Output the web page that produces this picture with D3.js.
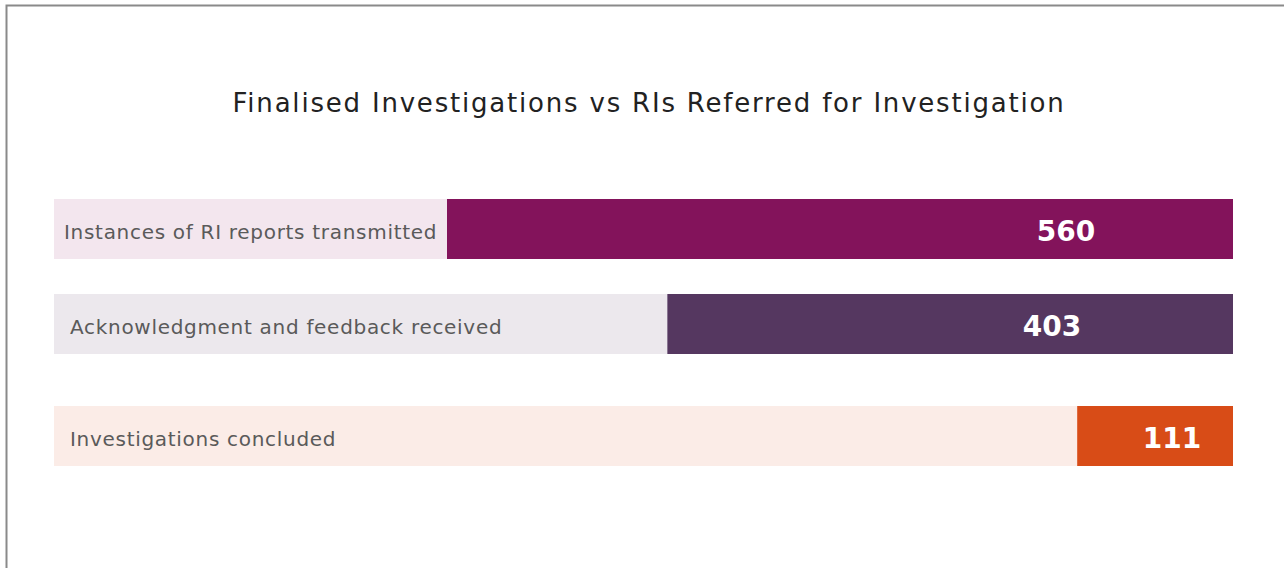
<!DOCTYPE html>
<html>
<head>
<meta charset="utf-8">
<script src="https://cdn.jsdelivr.net/npm/d3@7"></script>
<style>
  html, body { margin: 0; padding: 0; background: #fff; }
  svg { display: block; }
</style>
</head>
<body>
<svg id="chart" width="1284" height="568"></svg>
<script>
// Data
const categories = [
  "Instances of RI reports transmitted",
  "Acknowledgment and feedback received",
  "Investigations concluded"
];
const values = [560, 403, 111];
const barColors = ["#83135b", "#553760", "#d84c17"];
const trackColors = ["#f3e6ee", "#ece8ed", "#fbece7"];
const title = "Finalised Investigations vs RIs Referred for Investigation";

// Layout
const W = 1284, H = 568;
const trackLeft = 54, trackRight = 1233;
const barH = 60;
const rowTops = [199, 294, 406];
const labelInset = [10, 16, 16];
const valueCenterOffset = [167, 181, 61];
const fontFamily = "'DejaVu Sans', 'Noto Sans', sans-serif";

const svg = d3.select("#chart");

// frame
svg.append("path")
  .attr("d", `M6.5,${H} V5.5 H${W}`)
  .attr("fill", "none")
  .attr("stroke", "#8a8a8a")
  .attr("stroke-width", 2);

svg.append("text")
  .attr("x", 649)
  .attr("y", 112)
  .attr("text-anchor", "middle")
  .attr("font-family", fontFamily)
  .attr("font-size", 26)
  .attr("letter-spacing", 1.8)
  .attr("fill", "#222")
  .text(title);

const len = d3.scaleLinear().domain([0, 840]).range([0, trackRight - trackLeft]);
const y = d3.scaleOrdinal().domain(categories).range(rowTops);

const rows = svg.selectAll("g.row")
  .data(categories.map((c, i) => ({ c, v: values[i], i })))
  .join("g")
  .attr("class", "row")
  .attr("transform", d => `translate(0,${y(d.c)})`);

rows.append("rect")
  .attr("x", trackLeft)
  .attr("width", trackRight - trackLeft)
  .attr("height", barH)
  .attr("fill", d => trackColors[d.i]);

rows.append("rect")
  .attr("x", d => trackRight - len(d.v))
  .attr("width", d => len(d.v))
  .attr("height", barH)
  .attr("fill", d => barColors[d.i]);

rows.append("text")
  .attr("x", d => trackLeft + labelInset[d.i])
  .attr("y", barH / 2 + 4)
  .attr("dominant-baseline", "middle")
  .attr("font-family", fontFamily)
  .attr("font-size", 20)
  .attr("letter-spacing", 0.7)
  .attr("fill", "#5a5a5a")
  .text(d => d.c);

rows.append("text")
  .attr("x", d => trackRight - valueCenterOffset[d.i])
  .attr("y", barH / 2 + 4)
  .attr("dominant-baseline", "middle")
  .attr("text-anchor", "middle")
  .attr("font-family", fontFamily)
  .attr("font-size", 28)
  .attr("font-weight", 700)
  .attr("fill", "#fff")
  .text(d => d.v);
</script>
</body>
</html>
